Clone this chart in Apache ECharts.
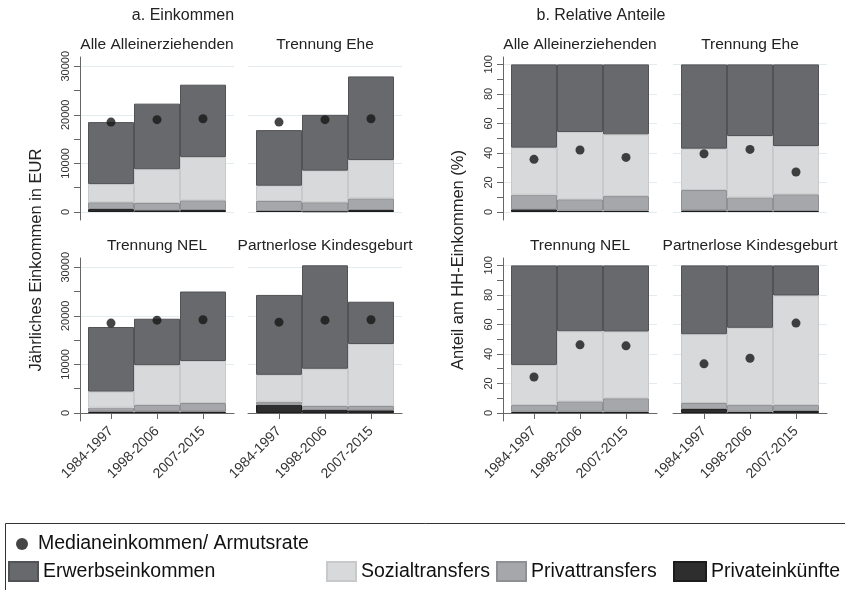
<!DOCTYPE html>
<html>
<head>
<meta charset="utf-8">
<script src="https://cdn.jsdelivr.net/npm/echarts@6/dist/echarts.min.js"></script>
<style>
  html, body { margin: 0; padding: 0; background: #fff; }
  #chart { width: 845px; height: 590px; }
</style>
</head>
<body>
<div id="chart"></div>
<script>
// periods & groups
const periods = ['1984-1997', '1998-2006', '2007-2015'];
const groups = ['Alle Alleinerziehenden', 'Trennung Ehe', 'Trennung NEL', 'Partnerlose Kindesgeburt'];

// a. Einkommen (EUR per year), one row per group, one value per period
const incPrivEink  = [[600, 350, 400], [200, 150, 400], [300, 300, 300], [1700, 600, 550]];
const incPrivTrans = [[1400, 1500, 2000], [2060, 1850, 2400], [800, 1350, 1750], [600, 850, 900]];
const incSozial    = [[3750, 6950, 8900], [3140, 6500, 7900], [3300, 8200, 8650], [5550, 7650, 12750]];
const incErwerb    = [[12750, 13500, 14900], [11450, 11500, 17200], [13300, 9550, 14300], [16450, 21300, 8700]];
const incMedian    = [[18500, 19000, 19200], [18500, 19000, 19200], [18500, 19100, 19200], [18700, 19100, 19200]];

// b. Relative Anteile (%)
const shrPrivEink  = [[1.8, 0.9, 0.9], [1.1, 0.7, 0.7], [0.9, 0.9, 0.9], [2.7, 0.9, 1.4]];
const shrPrivTrans = [[9.9, 7.7, 9.9], [13.8, 9.2, 11.3], [4.5, 7.0, 9.1], [4.1, 4.5, 4.0]];
const shrSozial    = [[31.9, 45.6, 41.8], [28.0, 41.6, 32.7], [27.2, 47.5, 45.2], [46.6, 52.3, 74.2]];
const shrErwerb    = [[56.4, 45.8, 47.4], [57.1, 48.5, 55.3], [67.4, 44.6, 44.8], [46.6, 42.3, 20.4]];
const shrArmut     = [[35.7, 42.0, 37.0], [39.5, 42.4, 27.1], [24.4, 46.2, 45.5], [33.3, 37.1, 60.9]];

// tick labels
const incLabels = [0, 10000, 20000, 30000];
const incTicks = [0, 5000, 10000, 15000, 20000, 25000, 30000];
const shrLabels = [0, 20, 40, 60, 80, 100];
const shrTicks = [0, 10, 20, 30, 40, 50, 60, 70, 80, 90, 100];

const FONT = '"Liberation Sans", Arial, sans-serif';
const comps = [
  { name: 'Privateinkünfte', color: '#2e2e2e', border: '#1c1c1c', a: incPrivEink, b: shrPrivEink },
  { name: 'Privattransfers', color: '#a6a7aa', border: '#8f9093', a: incPrivTrans, b: shrPrivTrans },
  { name: 'Sozialtransfers', color: '#d8d9da', border: '#c8c9ca', a: incSozial, b: shrSozial },
  { name: 'Erwerbseinkommen', color: '#68696d', border: '#525357', a: incErwerb, b: shrErwerb }
];
const dotName = 'Medianeinkommen/ Armutsrate';

const colLeft = { a: [80, 248], b: [503, 673] };
const rowTop = [57, 258];
const gw = 154, gh = 163, pad = 8;
const unit = (gw - 2 * pad) / 3;
const range = { a: [-1650, 31900], b: [-5.4, 105] };

const grid = [], xAxis = [], yAxis = [], series = [], graphic = [];
const axisColor = '#666';

['a', 'b'].forEach(function (kind) {
  groups.forEach(function (gName, g) {
    const row = g >> 1, col = g & 1;
    const left = colLeft[kind][col], top = rowTop[row];
    const labels = kind === 'a' ? incLabels : shrLabels;
    const ticks = kind === 'a' ? incTicks : shrTicks;

    // outer frame: axes, ticks, grid lines
    const oi = grid.length;
    grid.push({ left: left, top: top, width: gw, height: gh });
    xAxis.push({
      gridIndex: oi, type: 'value', min: 0.5 - pad / unit, max: 3.5 + pad / unit,
      axisLine: { show: row === 1, lineStyle: { color: axisColor } },
      axisTick: { show: row === 1, customValues: [1, 2, 3], length: 6, lineStyle: { color: axisColor } },
      axisLabel: {
        show: row === 1, customValues: [1, 2, 3], rotate: 45, margin: 8,
        formatter: function (v) { return periods[Math.round(v) - 1]; },
        fontFamily: FONT, fontSize: 14, color: '#333'
      },
      splitLine: { show: false }
    });
    yAxis.push({
      gridIndex: oi, type: 'value', min: range[kind][0], max: range[kind][1],
      axisLine: { show: col === 0, lineStyle: { color: axisColor } },
      axisTick: { show: col === 0, customValues: ticks, length: 6, lineStyle: { color: axisColor } },
      axisLabel: {
        show: col === 0, customValues: labels, rotate: 90, margin: 9,
        formatter: function (v) { return String(v); },
        fontFamily: FONT, fontSize: 11, color: '#333'
      },
      splitLine: { show: false }
    });
    yAxis.push({
      gridIndex: oi, type: 'value', min: range[kind][0], max: range[kind][1], position: 'left',
      axisLine: { show: false },
      axisTick: { show: false, customValues: labels },
      axisLabel: { show: false },
      splitLine: { show: true, lineStyle: { color: '#e3ebee', width: 1 } }
    });

    // inner plot: the bars and dots
    const ii = grid.length;
    grid.push({ left: left + pad, top: top, width: gw - 2 * pad, height: gh });
    xAxis.push({ gridIndex: ii, type: 'category', data: periods, boundaryGap: true, show: false });
    const yi = yAxis.length;
    yAxis.push({ gridIndex: ii, type: 'value', min: range[kind][0], max: range[kind][1], show: false, splitLine: { show: false } });

    comps.forEach(function (c) {
      series.push({
        name: c.name, type: 'bar', xAxisIndex: ii, yAxisIndex: yi, stack: 'st' + ii,
        barCategoryGap: '0%',
        itemStyle: { color: c.color, borderColor: c.border, borderWidth: 1 },
        emphasis: { disabled: true },
        data: c[kind][g]
      });
    });
    series.push({
      name: dotName, type: 'scatter', xAxisIndex: ii, yAxisIndex: yi,
      symbolSize: 9, z: 5, itemStyle: { color: '#161616' },
      data: (kind === 'a' ? incMedian : shrArmut)[g]
    });
    graphic.push({
      type: 'text', x: left + gw / 2, y: top - 12,
      style: { text: gName, font: '15.5px ' + FONT, fill: '#222', textAlign: 'center', textVerticalAlign: 'middle' }
    });
  });
});

graphic.push(
  { type: 'text', x: 183, y: 16, style: { text: 'a. Einkommen', font: '16px ' + FONT, fill: '#222', textAlign: 'center', textVerticalAlign: 'middle' } },
  { type: 'text', x: 601, y: 16, style: { text: 'b. Relative Anteile', font: '16px ' + FONT, fill: '#222', textAlign: 'center', textVerticalAlign: 'middle' } },
  { type: 'text', x: 36, y: 260, rotation: Math.PI / 2, style: { text: 'Jährliches Einkommen in EUR', font: '16.5px ' + FONT, fill: '#222', textAlign: 'center', textVerticalAlign: 'middle' } },
  { type: 'text', x: 458, y: 260, rotation: Math.PI / 2, style: { text: 'Anteil am HH-Einkommen (%)', font: '16.5px ' + FONT, fill: '#222', textAlign: 'center', textVerticalAlign: 'middle' } },
  { type: 'rect', shape: { x: 5.5, y: 523.5, width: 860, height: 100 }, style: { fill: 'none', stroke: '#333', lineWidth: 1 } }
);

const legendText = { fontFamily: FONT, fontSize: 19.5, color: '#111' };
function legendAt(name, left, top, w, h, icon, textPad) {
  return {
    data: [name], left: left, top: top, itemWidth: w, itemHeight: h, icon: icon,
    padding: 0, selectedMode: false,
    textStyle: Object.assign({ padding: [0, 0, 0, textPad || 0] }, legendText)
  };
}

const chart = echarts.init(document.getElementById('chart'));
chart.setOption({
  animation: false,
  grid: grid,
  xAxis: xAxis,
  yAxis: yAxis,
  series: series,
  graphic: graphic,
  legend: [
    legendAt(dotName, 16, 534, 12, 12, 'circle', 5),
    legendAt('Erwerbseinkommen', 8, 561, 29, 19, 'rect'),
    legendAt('Sozialtransfers', 326, 561, 29, 19, 'rect'),
    legendAt('Privattransfers', 496, 561, 29, 19, 'rect'),
    legendAt('Privateinkünfte', 673, 561, 32, 19, 'rect')
  ]
});
</script>
</body>
</html>
